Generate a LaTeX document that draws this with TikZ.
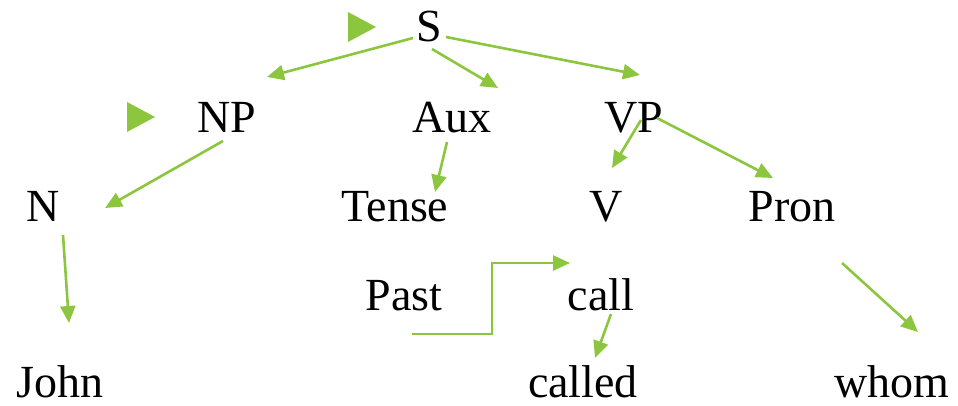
\documentclass[tikz,border=0pt]{standalone}
\usepackage{fontspec}
\setmainfont{Liberation Serif}
\usetikzlibrary{arrows.meta}
\definecolor{lgreen}{RGB}{140,198,63}
\tikzset{
  word/.style={anchor=base, inner sep=0pt, font=\fontsize{46}{55}\selectfont},
  arr/.style={draw=lgreen, line width=2.6pt, -{Triangle[length=17pt,width=15pt]}},
  bullet/.style={fill=lgreen, draw=none}
}
\begin{document}
\begin{tikzpicture}[x=1pt,y=-1pt]
\useasboundingbox (0,0) rectangle (958,406);
% words
\node[word] (S) at (429,42) {S};
\node[word] (NP) at (227,133) {NP};
\node[word] (Aux) at (452,133) {Aux};
\node[word] (VP) at (634,133) {VP};
\node[word] (N) at (43,222) {N};
\node[word] (Tense) at (395,222) {Tense};
\node[word] (V) at (606,222) {V};
\node[word] (Pron) at (792,222) {Pron};
\node[word] (Past) at (404,310) {Past};
\node[word] (call) at (601,310) {call};
\node[word] (John) at (60,397) {John};
\node[word] (called) at (583,397) {called};
\node[word] (whom) at (892,397) {whom};
% bullets
\fill[bullet] (348,12) -- (376,27) -- (348,42) -- cycle;
\fill[bullet] (127,102) -- (155,117) -- (127,132) -- cycle;
% arrows
\draw[arr] ([shift={(-16,-4)}]S.base) -- ([shift={(40,-56)}]NP.base);
\draw[arr] ([shift={(3,7)}]S.base) -- ([shift={(46,-45)}]Aux.base);
\draw[arr] ([shift={(17,-5)}]S.base) -- ([shift={(6,-58)}]VP.base);
\draw[arr] ([shift={(-4,8)}]NP.base) -- ([shift={(62,-14)}]N.base);
\draw[arr] ([shift={(-5,9)}]Aux.base) -- ([shift={(40,-30)}]Tense.base);
\draw[arr] ([shift={(7,-13)}]VP.base) -- ([shift={(6,-54)}]V.base);
\draw[arr] ([shift={(23,-15)}]VP.base) -- ([shift={(-19,-44)}]Pron.base);
\draw[arr] ([shift={(20,13)}]N.base) -- ([shift={(9,-74)}]John.base);
\draw[arr] ([shift={(8,24)}]Past.base) -- ++(80,0) |- ([shift={(-31,-47)}]call.base);
\draw[arr] ([shift={(10,4)}]call.base) -- ([shift={(12,-39)}]called.base);
\draw[arr] ([shift={(50,41)}]Pron.base) -- ([shift={(26,-65)}]whom.base);
\end{tikzpicture}
\end{document}
